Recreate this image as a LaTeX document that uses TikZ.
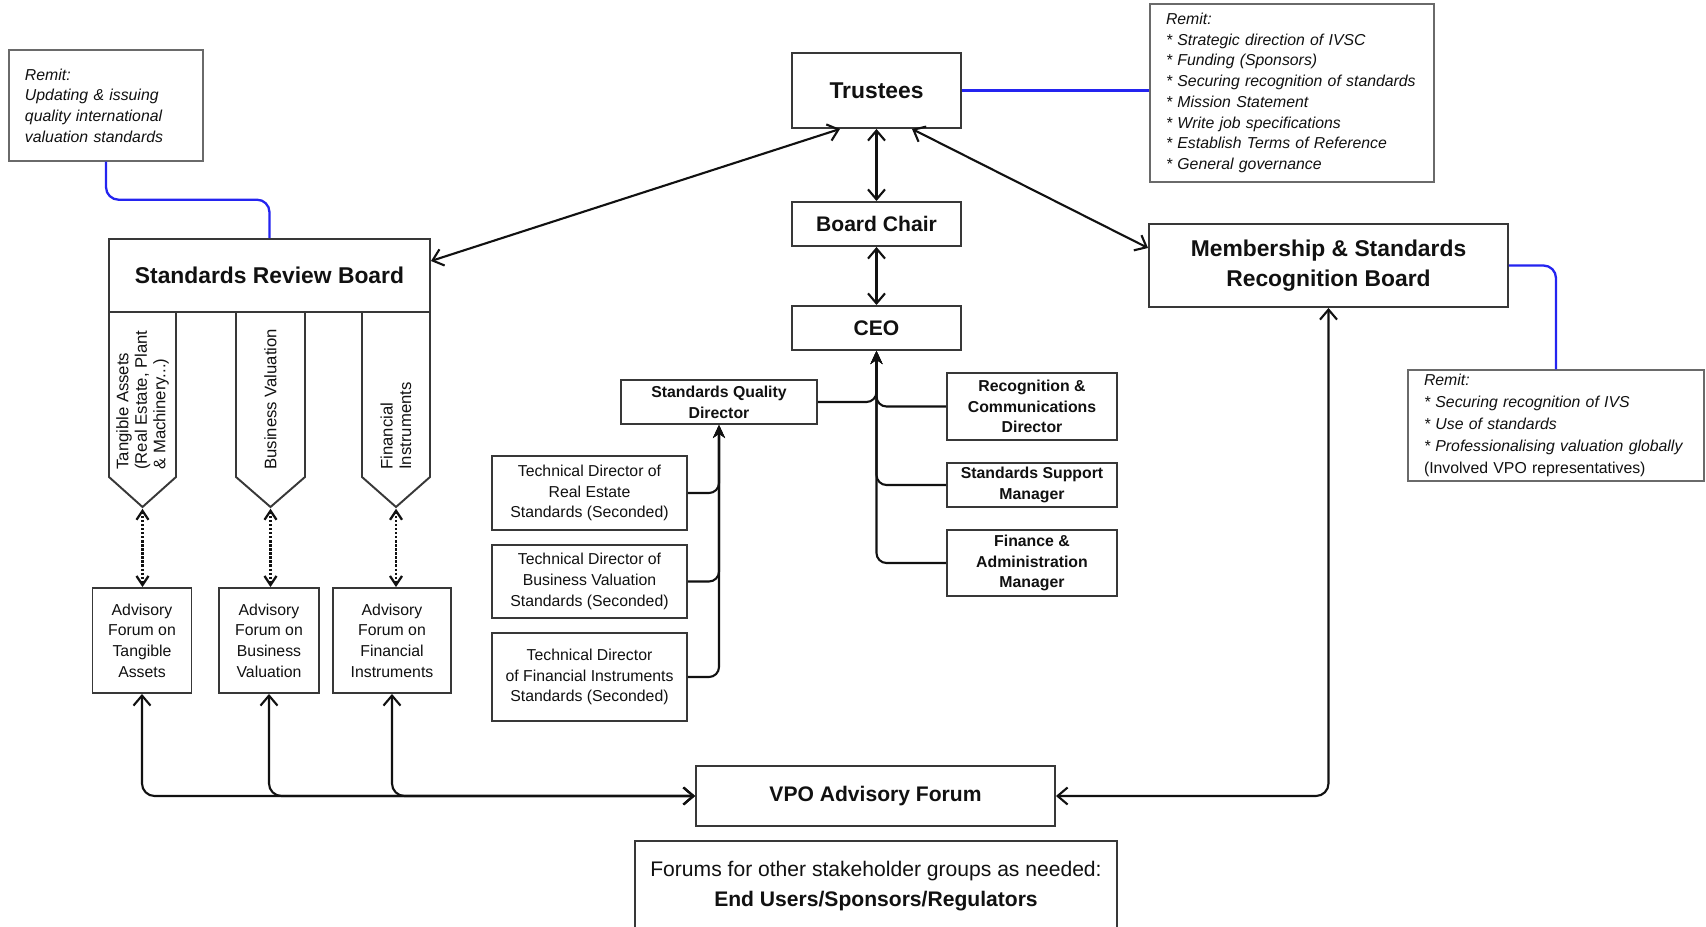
\documentclass[tikz,border=0pt]{standalone}
\usepackage{fontspec}
\setmainfont{Liberation Sans}
\usepackage{tikz}
\usetikzlibrary{arrows.meta,positioning,calc}
\usepackage{xcolor}
\definecolor{ink}{HTML}{111111}
\definecolor{frame}{HTML}{383838}
\definecolor{remitgray}{HTML}{6A6A6A}
\definecolor{remitblue}{HTML}{2424F0}

\begin{document}
\begin{tikzpicture}[
  x=0.2mm, y=-0.2mm,
  every node/.style={text=ink},
  box/.style={draw=frame, line width=1.1pt, fill=white, align=center, inner sep=0pt},
  bighead/.style={box, font=\fontsize{13}{17}\selectfont\bfseries},
  midhead/.style={box, font=\fontsize{12}{14}\selectfont\bfseries},
  staff/.style={box, font=\fontsize{9}{11.8}\selectfont\bfseries},
  txtbox/.style={box, font=\fontsize{9}{11.8}\selectfont},
  remit/.style={draw=remitgray, line width=0.8pt, fill=white, align=left, inner xsep=3.2mm, inner ysep=0pt,
                font=\fontsize{9}{11.8}\selectfont\itshape},
  colname/.style={rotate=90, anchor=west, align=left, inner sep=0pt, font=\fontsize{9.5}{10.5}\selectfont},
  pillar/.style={draw=frame, line width=1.1pt, line join=miter},
  link/.style={{Straight Barb[length=2mm,width=3.4mm]}-{Straight Barb[length=2mm,width=3.4mm]}, line width=1.2pt, color=ink},
  dotlink/.style={{Straight Barb[length=1.8mm,width=2.4mm]}-{Straight Barb[length=1.8mm,width=2.4mm]},
                  line width=1.3pt, color=ink, densely dotted, shorten <=1pt},
  branch/.style={-{Stealth[length=2.6mm,width=2.4mm]}, line width=1.2pt, color=ink, rounded corners=2mm},
  remitline/.style={line width=1.3pt, color=remitblue, rounded corners=2.5mm}
]
\useasboundingbox (0,0) rectangle (1706,927);

% --- top: trustees and their remit
\node[bighead, minimum width=33.8mm, minimum height=15mm] (trustees) at (876.5,90.5) {Trustees};
\node[midhead, minimum width=33.8mm, minimum height=8.8mm] (chair) at (876.5,224) {Board Chair};
\node[midhead, minimum width=33.8mm, minimum height=8.8mm] (ceo) at (876.5,328) {CEO};
\node[remit, text width=50.4mm, minimum height=35.6mm] (remitR) at (1292,93)
  {Remit:\\{}* Strategic direction of IVSC\\{}* Funding (Sponsors)\\{}* Securing recognition of standards\\{}
   * Mission Statement\\{}* Write job specifications\\{}* Establish Terms of Reference\\{}* General governance};
\draw[remitline] (trustees.east) -- (remitR.west |- trustees.east);
\draw[link] (trustees) -- (chair);
\draw[link] (chair) -- (ceo);

% --- left: standards review board
\node[remit, text width=32.4mm, minimum height=22.2mm] (remitL) at (106,105.5)
  {Remit:\\Updating \& issuing\\quality international\\valuation standards};
\node[bighead, minimum width=64.2mm, minimum height=14.6mm] (srb) at (269.5,275.5) {Standards Review Board};
\draw[remitline] (remitL.south) -- ++(0,38) -| (srb.north);
\foreach \l/\r/\n in {109/176/A, 236/305/B, 362/430/C} {
  \draw[pillar] (\l,312) -- (\l,477) -- ({(\l+\r)/2},507) -- (\r,477) -- (\r,312);
  \coordinate (tip\n) at ({(\l+\r)/2},507);
}
\node[colname] (colA) at (142.5,470) {Tangible Assets\\(Real Estate, Plant\\\& Machinery...)};
\node[colname] (colB) at (270.5,470) {Business Valuation};
\node[colname] (colC) at (396,470) {Financial\\Instruments};

\node[txtbox, minimum width=19.8mm, minimum height=21mm] (afA) at (142,640.5) {Advisory\\Forum on\\Tangible\\Assets};
\node[txtbox, minimum width=20mm, minimum height=21mm] (afB) at (269,640.5) {Advisory\\Forum on\\Business\\Valuation};
\node[txtbox, minimum width=23.6mm, minimum height=21mm] (afC) at (392,640.5) {Advisory\\Forum on\\Financial\\Instruments};
\draw[dotlink] (tipA) -- (tipA |- afA.north);
\draw[dotlink] (tipB) -- (tipB |- afB.north);
\draw[dotlink] (tipC) -- (tipC |- afC.north);

% --- right: membership board
\node[bighead, minimum width=71.8mm, minimum height=16.6mm] (msrb) at (1328.5,265.5)
  {Membership \& Standards\\Recognition Board};
\node[remit, text width=52.8mm, minimum height=22.2mm, font=\fontsize{9}{12.6}\selectfont\itshape] (remitM) at (1556,425.5)
  {Remit:\\{}* Securing recognition of IVS\\{}* Use of standards\\{}* Professionalising valuation globally\\{}
   {\upshape (Involved VPO representatives)}};
\draw[remitline] (msrb.east) -| (remitM.north);
\draw[link] ([xshift=-7.3mm]trustees.south) -- ([yshift=2.9mm]srb.east);
\draw[link] ([xshift=7.1mm]trustees.south) -- ([yshift=3.5mm]msrb.west);

% --- staff under the CEO
\node[staff, minimum width=39.2mm, minimum height=8.8mm] (sqd) at (719,402) {Standards Quality\\Director};
\node[staff, minimum width=34mm, minimum height=13.4mm] (rcd) at (1032,406.5) {Recognition \&\\Communications\\Director};
\node[staff, minimum width=34mm, minimum height=8.8mm] (ssm) at (1032,485) {Standards Support\\Manager};
\node[staff, minimum width=34mm, minimum height=13.2mm] (fam) at (1032,563) {Finance \&\\Administration\\Manager};
\draw[branch] (sqd.east) -| (ceo.south);
\draw[branch] (rcd.west) -| (ceo.south);
\draw[branch] (ssm.west) -| (ceo.south);
\draw[branch] (fam.west) -| (ceo.south);

\node[txtbox, minimum width=39mm, minimum height=14.8mm] (tdA) at (589.5,493) {Technical Director of\\Real Estate\\Standards (Seconded)};
\node[txtbox, minimum width=39mm, minimum height=14.6mm] (tdB) at (589.5,581.5) {Technical Director of\\Business Valuation\\Standards (Seconded)};
\node[txtbox, minimum width=39mm, minimum height=17.6mm] (tdC) at (589.5,677) {Technical Director\\of Financial Instruments\\Standards (Seconded)};
\draw[branch] (tdA.east) -| (sqd.south);
\draw[branch] (tdB.east) -| (sqd.south);
\draw[branch] (tdC.east) -| (sqd.south);

% --- bottom: forums
\node[midhead, minimum width=71.8mm, minimum height=12mm] (vpo) at (875.5,796) {VPO Advisory Forum};
\draw[link, rounded corners=2.5mm] (afA.south) |- (vpo.west);
\draw[link, rounded corners=2.5mm] (afB.south) |- (vpo.west);
\draw[link, rounded corners=2.5mm] (afC.south) |- (vpo.west);
\draw[link, rounded corners=2.5mm] (vpo.east) -| (msrb.south);
\node[box, anchor=north, minimum width=96.4mm, minimum height=20mm] (forums) at (876,840) {};
\node[align=center, font=\fontsize{12}{16.7}\selectfont] (forumtext) at (876,886)
  {Forums for other stakeholder groups as needed:\\\textbf{End Users/Sponsors/Regulators}};

\end{tikzpicture}
\end{document}
